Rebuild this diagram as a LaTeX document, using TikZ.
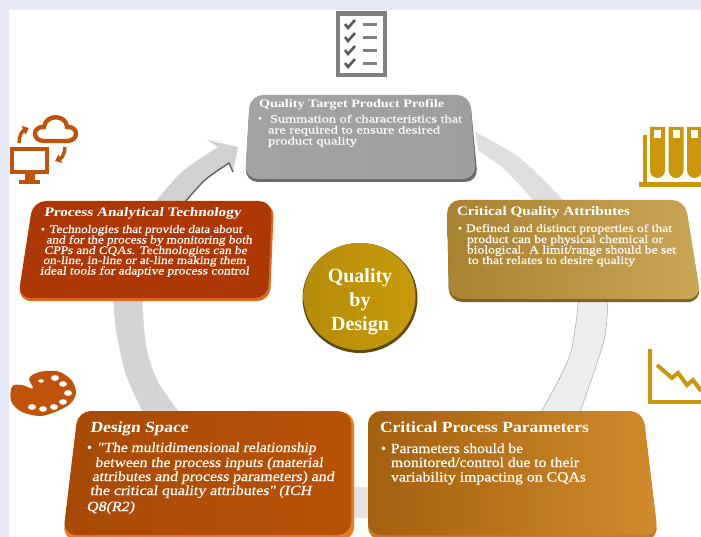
\documentclass[tikz,border=0pt]{standalone}
\usepackage{fontspec}
\usepackage{graphicx}
\usetikzlibrary{arrows.meta}
\setmainfont{Liberation Serif}[FakeBold=0.35]
\newfontfamily\slfont[FakeSlant=0.13,FakeBold=0.35]{Liberation Serif}
\newfontfamily\slbfont[FakeSlant=0.13]{Liberation Serif Bold}
\newfontfamily\itfont[FakeBold=0.35]{Liberation Serif Italic}
\newfontfamily\bdfont{Liberation Serif Bold}
\definecolor{pagebg}{HTML}{E6E9F4}
\definecolor{iconrust}{HTML}{C0530A}
\definecolor{iconamber}{HTML}{CB960A}
\definecolor{icongray}{HTML}{808080}
\definecolor{cqaL}{HTML}{A98230}\definecolor{cqaR}{HTML}{CBA657}\definecolor{cqaE}{HTML}{7F6222}
\definecolor{patF}{HTML}{AE3805}\definecolor{patE}{HTML}{DE6A1E}
\definecolor{dsL}{HTML}{A84A06}\definecolor{dsR}{HTML}{B85207}\definecolor{dsE}{HTML}{EA7B22}
\definecolor{cppL}{HTML}{A4600E}\definecolor{cppR}{HTML}{D08B2C}\definecolor{cppE}{HTML}{C87A20}
\definecolor{goldF}{HTML}{C99A0A}\definecolor{goldE}{HTML}{5A4A12}
\newcommand{\tl}[5]{\node[tline] (#1) at (#2,#3) {\resizebox{#4pt}{\height}{#5}};}
\newcommand{\sz}[2]{\fontsize{#1}{#2}\selectfont}
\tikzset{
  tline/.style={anchor=base west,inner sep=0pt,outer sep=0pt,text=white},
  boxcorner/.style={rounded corners=13pt},
  iconline/.style={line width=4.4pt},
}
\begin{document}
\begin{tikzpicture}[x=1pt,y=-1pt]
\useasboundingbox (0,0) rectangle (701,537);
\fill[pagebg] (0,0) rectangle (701,537);
\fill[white] (9,10) rectangle (701,537);

% ---- ring segments
\fill[black!18] plot[smooth] coordinates {(155,202)(183,171)(218,147)} -- (207,140) -- (238,147) -- (233,172) -- (229,163) -- plot[smooth] coordinates {(229,163)(205,180)(185,202)} -- cycle;
\draw[black!65,line width=1.3pt] plot[smooth] coordinates {(185,202)(205,180)(229,163)} -- (233,172);
\fill[black!17] plot[smooth] coordinates {(113,295)(116,330)(126,375)(143,412)} -- plot[smooth] coordinates {(179,412)(157,380)(146,345)(142,295)} -- cycle;
\fill[black!13] plot[smooth] coordinates {(475,132)(520,158)(563,200)} -- plot[smooth] coordinates {(533,200)(505,170)(478,150)} -- cycle;
\fill[black!7] plot[smooth] coordinates {(608,295)(604,340)(580,412)} -- plot[smooth] coordinates {(541,412)(570,355)(579,295)} -- cycle;
\draw[black!35,line width=.5pt] plot[smooth] coordinates {(608,295)(604,340)(580,412)};
\draw[black!35,line width=.5pt] plot[smooth] coordinates {(579,295)(570,355)(541,412)};
\fill[black!11] (345,487) rectangle (375,518);

% ---- boxes
\fill[boxcorner,black!58] (250,97) -- (470,97) -- (478,182) -- (245,182) -- cycle;
\shade[boxcorner,left color=black!36,right color=black!38] (250,95) -- (470,95) -- (476,179) -- (245,179) -- cycle;

\fill[boxcorner,cqaE] (447,202) -- (685,202) -- (701,302) -- (449,302) -- cycle;
\shade[boxcorner,left color=cqaL,right color=cqaR] (447,200) -- (685,200) -- (701,299) -- (449,299) -- cycle;

\fill[boxcorner,patE] (33,203) -- (274,203) -- (270,301) -- (18,301) -- cycle;
\fill[boxcorner,patF] (33,201) -- (272,201) -- (268,298) -- (18,298) -- cycle;

\fill[boxcorner,dsE] (78,412) -- (354,412) -- (354,540) -- (63,540) -- cycle;
\shade[boxcorner,left color=dsL,right color=dsR] (78,411) -- (351,411) -- (351,535) -- (63,535) -- cycle;

\fill[boxcorner,cppE] (368,412) -- (643,412) -- (658,540) -- (368,540) -- cycle;
\shade[boxcorner,left color=cppL,right color=cppR] (368,411) -- (643,411) -- (658,535) -- (368,535) -- cycle;

% ---- centre
\fill[goldE] (360,298) ellipse (57.5 and 55);
\shade[left color=goldF!90!black,right color=goldF] (359.5,296.5) ellipse (56 and 53.5);
\node[text=white,font=\bdfont\sz{20}{24},align=center,inner sep=0pt] (qbd) at (360,302) {Quality\\by\\Design};

% ---- QTPP text
\tl{q0}{259}{108}{185}{\sz{11.5}{13}\bdfont Quality Target Product Profile}
\tl{q1}{258}{122}{4}{\sz{11}{13}•}
\tl{q2}{270}{122.5}{192}{\sz{11}{13}Summation of characteristics that}
\tl{q3}{268}{133.5}{172}{\sz{11}{13}are required to ensure desired}
\tl{q4}{268}{144.5}{89}{\sz{11}{13}product quality}

% ---- CQA text
\tl{c0}{457}{216}{173}{\sz{13}{15}\bdfont Critical Quality Attributes}
\tl{c1}{458}{232}{4}{\sz{11.5}{13}•}
\tl{c2}{466}{232}{206}{\sz{11.5}{13}Defined and distinct properties of that}
\tl{c3}{467}{243}{196}{\sz{11.5}{13}product can be physical chemical or}
\tl{c4}{467}{253.5}{209}{\sz{11.5}{13}biological. A limit/range should be set}
\tl{c5}{468}{264}{167}{\sz{11.5}{13}to that relates to desire quality}

% ---- PAT text
\tl{p0}{44}{217}{197}{\sz{13}{15}\slbfont Process Analytical Technology}
\tl{p1}{41}{233}{4}{\sz{11.5}{13}•}
\tl{p2}{49}{233}{193}{\sz{11.5}{13}\slfont Technologies that provide data about}
\tl{p3}{46}{243.5}{206}{\sz{11.5}{13}\slfont and for the process by monitoring both}
\tl{p4}{44}{254}{203}{\sz{11.5}{13}\slfont CPPs and CQAs. Technologies can be}
\tl{p5}{43}{264}{203}{\sz{11.5}{13}\slfont on-line, in-line or at-line making them}
\tl{p6}{40}{274.5}{209}{\sz{11.5}{13}\slfont ideal tools for adaptive process control}

% ---- Design Space text
\tl{d0}{90}{432}{98}{\sz{15.5}{18}\slbfont Design Space}
\tl{d1}{87}{452}{5}{\sz{14}{16}•}
\tl{d2}{97}{452}{219}{\sz{14}{16}\slfont "The multidimensional relationship}
\tl{d3}{95}{467}{228}{\sz{14}{16}\slfont between the process inputs (material}
\tl{d4}{92}{481}{242}{\sz{14}{16}\slfont attributes and process parameters) and}
\tl{d5}{90}{495}{222}{\sz{14}{16}\slfont the critical quality attributes" \itfont(ICH}
\tl{d6}{87}{511}{48}{\sz{14}{16}\itfont Q8(R2)}

% ---- CPP text
\tl{k0}{380}{432}{209}{\sz{15.5}{18}\bdfont Critical Process Parameters}
\tl{k1}{381}{453}{5}{\sz{14}{16}•}
\tl{k2}{391}{453}{132}{\sz{14}{16}Parameters should be}
\tl{k3}{391}{467}{188}{\sz{14}{16}monitored/control due to their}
\tl{k4}{391}{481.5}{195}{\sz{14}{16}variability impacting on CQAs}

% ---- checklist icon
\draw[icongray,line width=4.6pt] (338,13.5) rectangle (385,75);
\foreach \yy in {25,38,51,64}{
  \draw[icongray,line width=3pt] (363,\yy) -- (377,\yy);
  \draw[icongray!70!black,line width=2.6pt] (345,\yy-1) -- (348,\yy+3) -- (355,\yy-5);
}

% ---- test tubes icon
\fill[iconamber] (639,182) rectangle (701,187);
\fill[iconamber] (643,135) rectangle (647,182);
\foreach \xx in {650,668.5,687}{
  \fill[iconamber] (\xx,127) -- (\xx+15,127) -- (\xx+15,170) arc[start angle=0,end angle=180,x radius=7.5,y radius=8] -- cycle;
  \fill[white] (\xx+4,130) rectangle (\xx+11,138);
}
\fill[white] (701,120) rectangle (705,190);

% ---- chart icon
\draw[iconamber,line width=4pt] (650,349) -- (650,402) -- (701,402);
\draw[iconamber,line width=4pt] (657,365) -- (672,378) -- (678,373) -- (687,385) -- (693,380) -- (701,391);

% ---- palette icon
\fill[iconrust] plot[smooth cycle,tension=.55] coordinates {(45,371)(60,372)(72,381)(76,393)(70,404)(55,412)(40,416)(22,412)(12,403)(10.5,393)(13,385.5)(22,385)(33,388.5)(29,379)(34,374)};
\foreach \hx/\hy/\hr in {55/378/3.4,63/384/3.3,68/393/3.4,63/402/3.3,54/407/3.4,43/409/3.3,32/407/3.4,41/381/2.2}{
  \fill[white] (\hx,\hy) ellipse (\hr+.6 and \hr-.5);
}

% ---- monitor and cloud icon
\draw[iconrust,iconline] (12,149) rectangle (47,172);
\fill[iconrust] (25,174) rectangle (35,181);
\fill[iconrust] (19,180) rectangle (40,184);
\draw[iconrust,iconline] (44,141) .. controls (32,141) and (32,126) .. (44,127)
  .. controls (46,113) and (67,115) .. (67,127)
  .. controls (79,126) and (79,141) .. (67,141) -- cycle;
\draw[iconrust,line width=3.4pt,-{Triangle[length=6pt,width=9pt]}] (19,143) .. controls (19,136) and (22,131) .. (29,128);
\draw[iconrust,line width=3.4pt,-{Triangle[length=6pt,width=9pt]}] (65,147) .. controls (65,153) and (62,158) .. (55,161);
\end{tikzpicture}
\end{document}
